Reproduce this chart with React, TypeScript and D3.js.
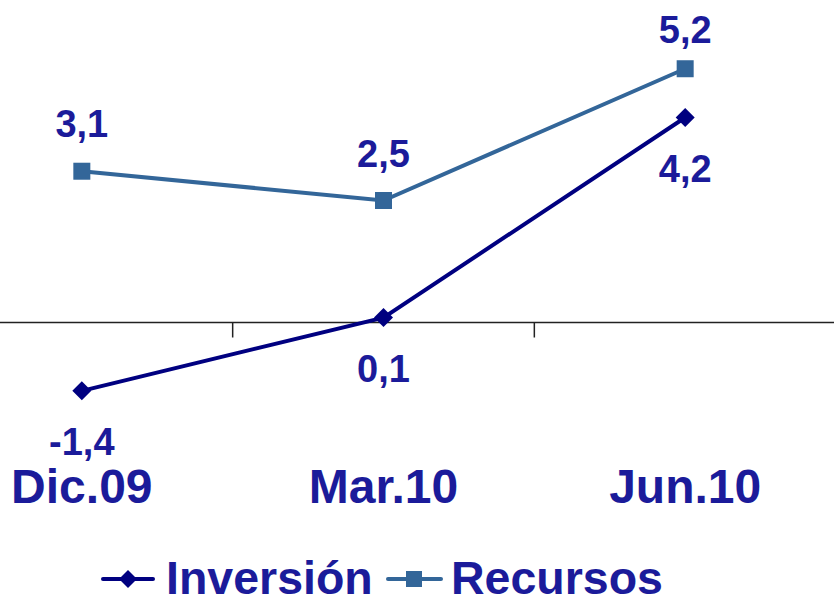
import React from "react";
import * as d3 from "d3";

const categories = ["Dic.09", "Mar.10", "Jun.10"];
const inversion = [-1.4, 0.1, 4.2];
const recursos = [3.1, 2.5, 5.2];
const seriesNames = ["Inversión", "Recursos"];

const W = 834;
const H = 599;
const FONT = "'Liberation Sans', Arial, sans-serif";
const TEXT = "#1B1B9A";
const C_INV = "#000080";
const C_REC = "#336699";

const fmt = (v: number) => v.toFixed(1).replace(".", ",");

export default function App() {
  const x = d3.scaleBand<string>().domain(categories).range([-69, 836]).padding(0);
  const bw = x.bandwidth();
  const cx = (c: string) => (x(c) as number) + bw / 2;
  const y = d3.scaleLinear().domain([-2, 6]).range([420.1, 29.7]);
  const y0 = y(0);

  const line = d3
    .line<number>()
    .x((_, i) => cx(categories[i]))
    .y((d) => y(d));

  const diamond = (px: number, py: number, r: number) =>
    `M${px},${py - r}L${px + r},${py}L${px},${py + r}L${px - r},${py}Z`;

  const boundaries = categories.slice(1).map((c) => x(c) as number);

  return (
    <svg
      width={W}
      height={H}
      style={{ position: "absolute", left: 0, top: 0, background: "#fff" }}
      fontFamily={FONT}
      fontWeight="bold"
    >
      {/* axis */}
      <line x1={0} x2={W} y1={y0} y2={y0} stroke="#222" strokeWidth={1.5} />
      {boundaries.map((b, i) => (
        <line key={i} x1={b} x2={b} y1={y0} y2={y0 + 15} stroke="#222" strokeWidth={1.5} />
      ))}

      {/* Recursos */}
      <path d={line(recursos) as string} fill="none" stroke={C_REC} strokeWidth={4} />
      {recursos.map((v, i) => (
        <rect
          key={i}
          x={cx(categories[i]) - 8.5}
          y={y(v) - 8.5}
          width={17}
          height={17}
          fill={C_REC}
        />
      ))}
      {/* Inversión */}
      <path d={line(inversion) as string} fill="none" stroke={C_INV} strokeWidth={4} />
      {inversion.map((v, i) => (
        <path key={i} d={diamond(cx(categories[i]), y(v), 9.5)} fill={C_INV} />
      ))}

      {/* labels */}
      {recursos.map((v, i) => (
        <text
          key={i}
          x={cx(categories[i])}
          y={Math.max(y(v) - 34, 43)}
          textAnchor="middle"
          fontSize={38}
          fill={TEXT}
        >
          {fmt(v)}
        </text>
      ))}
      {inversion.map((v, i) => (
        <text
          key={i}
          x={cx(categories[i])}
          y={y(v) + 64}
          textAnchor="middle"
          fontSize={38}
          fill={TEXT}
        >
          {fmt(v)}
        </text>
      ))}

      {/* categories */}
      {categories.map((c) => (
        <text key={c} x={cx(c)} y={503} textAnchor="middle" fontSize={48} fill={TEXT}>
          {c}
        </text>
      ))}

      {/* legend */}
      <g>
        <line x1={103} x2={153} y1={579} y2={579} stroke={C_INV} strokeWidth={4} strokeLinecap="round" />
        <path d={diamond(128, 579, 9)} fill={C_INV} />
        <text x={166} y={594} fontSize={46.5} fill={TEXT}>
          {seriesNames[0]}
        </text>
        <line x1={388} x2={441} y1={579} y2={579} stroke={C_REC} strokeWidth={4} strokeLinecap="round" />
        <rect x={406} y={571} width={16} height={16} fill={C_REC} />
        <text x={451} y={594} fontSize={46.5} fill={TEXT}>
          {seriesNames[1]}
        </text>
      </g>
    </svg>
  );
}
